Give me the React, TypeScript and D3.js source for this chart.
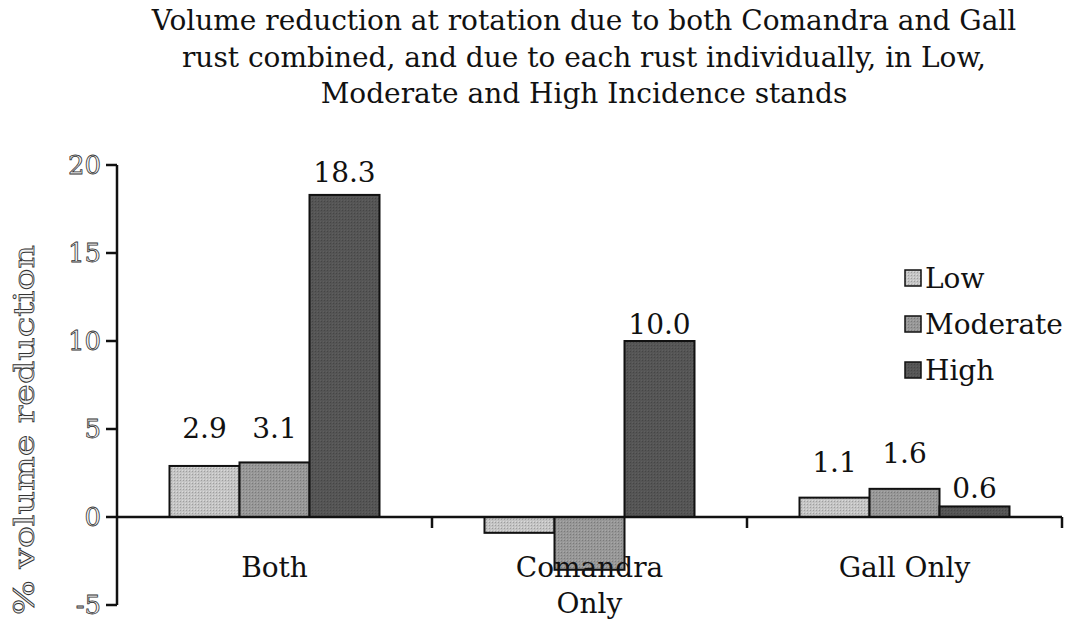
import React from "react";
import * as d3 from "d3";

const titleLines = [
  "Volume reduction at rotation due to both Comandra and Gall",
  "rust combined, and due to each rust individually, in Low,",
  "Moderate and High Incidence stands",
];
const categories = ["Both", "Comandra Only", "Gall Only"];
const categoryLines = [["Both"], ["Comandra", "Only"], ["Gall Only"]];
const seriesNames = ["Low", "Moderate", "High"];
const lowValues = [2.9, -0.9, 1.1];
const moderateValues = [3.1, -3.0, 1.6];
const highValues = [18.3, 10.0, 0.6];
const lowLabels = ["2.9", "", "1.1"];
const moderateLabels = ["3.1", "", "1.6"];
const highLabels = ["18.3", "10.0", "0.6"];
const yTicks = [-5, 0, 5, 10, 15, 20];

// layout / style (not data)
const W = 1065;
const H = 626;
const colors = ["#c4c4c4", "#979797", "#555555"];
const labelLift = [
  [28, 0, 26],
  [24, 0, 26],
  [13, 7, 8],
];
const serif = "'DejaVu Serif', 'Liberation Serif', serif";

export default function App() {
  const x = d3.scaleBand<string>().domain(categories).range([117, 1062]).padding(0);
  const xi = d3
    .scaleBand<string>()
    .domain(seriesNames)
    .range([0, x.bandwidth()])
    .paddingInner(0)
    .paddingOuter(0.75);
  const y = d3.scaleLinear().domain([-5, 20]).range([605, 165]);
  const seriesValues = [lowValues, moderateValues, highValues];
  const seriesLabels = [lowLabels, moderateLabels, highLabels];

  return (
    <svg
      width={W}
      height={H}
      style={{ position: "absolute", left: 0, top: 0, background: "#fff" }}
      fontFamily={serif}
    >
      <rect width={W} height={H} fill="#fff" />
      <defs>
        {colors.map((c, i) => (
          <pattern key={i} id={`pat${i}`} width={3} height={3} patternUnits="userSpaceOnUse">
            <rect width={3} height={3} fill={c} />
            <rect width={1} height={1} fill={d3.color(c)!.darker(0.6).toString()} />
            <rect x={2} y={2} width={1} height={1} fill={d3.color(c)!.brighter(0.3).toString()} />
          </pattern>
        ))}
      </defs>
      {titleLines.map((t, i) => (
        <text key={i} x={584} y={30 + i * 36.5} textAnchor="middle" fontSize={28} fill="#111">
          {t}
        </text>
      ))}

      {/* bars */}
      {seriesNames.map((s, si) =>
        categories.map((c, ci) => {
          const v = seriesValues[si][ci];
          const x0 = (x(c) as number) + (xi(s) as number);
          const y0 = Math.min(y(v), y(0));
          const h = Math.abs(y(v) - y(0));
          return (
            <rect
              key={`${s}-${c}`}
              x={x0}
              y={y0}
              width={xi.bandwidth()}
              height={h}
              fill={`url(#pat${si})`}
              stroke="#111"
              strokeWidth={2}
            />
          );
        })
      )}

      {/* value labels */}
      {seriesNames.map((s, si) =>
        categories.map((c, ci) => {
          const lab = seriesLabels[si][ci];
          if (!lab) return null;
          const v = seriesValues[si][ci];
          const cx = (x(c) as number) + (xi(s) as number) + xi.bandwidth() / 2;
          return (
            <text
              key={`l-${s}-${c}`}
              x={cx}
              y={y(v) - labelLift[si][ci]}
              textAnchor="middle"
              fontSize={28}
              fill="#111"
            >
              {lab}
            </text>
          );
        })
      )}

      {/* y axis */}
      <line x1={117} x2={117} y1={y(20)} y2={y(-5)} stroke="#111" strokeWidth={2.5} />
      {yTicks.map((t) => (
        <g key={t}>
          <line x1={106} x2={117} y1={y(t)} y2={y(t)} stroke="#111" strokeWidth={2.5} />
          <text
            x={101}
            y={y(t)}
            dy="0.35em"
            textAnchor="end"
            fontSize={26}
            fill="#f2f2f2"
            stroke="#333"
            strokeWidth={0.8}
          >
            {t}
          </text>
        </g>
      ))}
      <text
        transform={`translate(34, 430) rotate(-90)`}
        textAnchor="middle"
        fontSize={28}
        textLength={370}
        lengthAdjust="spacingAndGlyphs"
        fill="#f2f2f2"
        stroke="#333"
        strokeWidth={0.8}
      >
        % volume reduction
      </text>

      {/* x axis */}
      <line x1={117} x2={1062} y1={y(0)} y2={y(0)} stroke="#111" strokeWidth={2.5} />
      {categories.map((c) => {
        const xe = (x(c) as number) + x.bandwidth();
        return <line key={`t-${c}`} x1={xe} x2={xe} y1={y(0)} y2={y(0) + 11} stroke="#111" strokeWidth={2.5} />;
      })}
      {categories.map((c, ci) =>
        categoryLines[ci].map((ln, li) => (
          <text
            key={`c-${c}-${li}`}
            x={(x(c) as number) + x.bandwidth() / 2}
            y={577 + li * 36}
            textAnchor="middle"
            fontSize={28}
            fill="#111"
          >
            {ln}
          </text>
        ))
      )}

      {/* legend */}
      {seriesNames.map((s, si) => (
        <g key={`lg-${s}`} transform={`translate(905, ${278 + si * 46})`}>
          <rect x={0} y={-8} width={16} height={16} fill={`url(#pat${si})`} stroke="#111" strokeWidth={1.5} />
          <text x={20} y={0} dy="0.35em" fontSize={28} fill="#111">
            {s}
          </text>
        </g>
      ))}
    </svg>
  );
}
